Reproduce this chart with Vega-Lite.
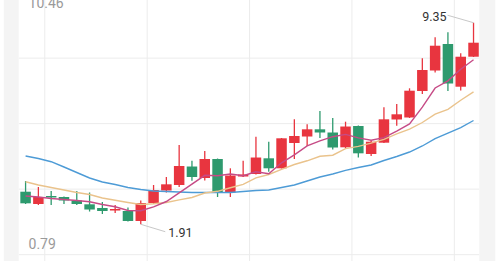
{
  "$schema": "https://vega.github.io/schema/vega-lite/v6.json",
  "width": 499,
  "height": 261,
  "padding": 0,
  "autosize": {"type": "none"},
  "background": "white",
  "config": {"view": {"stroke": null}},
  "datasets": {
    "levels": [{"price": 10.46}, {"price": 0.79}],
    "hgrid": [{"price": 0.79}, {"price": 3.2075}, {"price": 5.625}, {"price": 8.0425}],
    "vgrid": [{"pos": 1.5}, {"pos": 9.5}, {"pos": 17.5}, {"pos": 25.5}, {"pos": 33.5}]
  },
  "data": {
    "values": [
      {"i": 0, "open": 3.113, "high": 3.508, "low": 2.659, "close": 2.685, "ma5": 2.954, "ma10": 3.482, "ma20": 4.431},
      {"i": 1, "open": 2.659, "high": 3.287, "low": 2.622, "close": 2.918, "ma5": 2.918, "ma10": 3.360, "ma20": 4.338},
      {"i": 2, "open": 2.954, "high": 3.139, "low": 2.622, "close": 2.899, "ma5": 2.862, "ma10": 3.268, "ma20": 4.220},
      {"i": 3, "open": 2.918, "high": 2.936, "low": 2.659, "close": 2.788, "ma5": 2.825, "ma10": 3.176, "ma20": 4.025},
      {"i": 4, "open": 2.788, "high": 3.139, "low": 2.622, "close": 2.659, "ma5": 2.788, "ma10": 3.084, "ma20": 3.822},
      {"i": 5, "open": 2.648, "high": 3.084, "low": 2.382, "close": 2.456, "ma5": 2.744, "ma10": 3.010, "ma20": 3.619},
      {"i": 6, "open": 2.512, "high": 2.733, "low": 2.290, "close": 2.401, "ma5": 2.641, "ma10": 2.881, "ma20": 3.471},
      {"i": 7, "open": 2.419, "high": 2.622, "low": 2.327, "close": 2.475, "ma5": 2.556, "ma10": 2.796, "ma20": 3.379},
      {"i": 8, "open": 2.401, "high": 2.530, "low": 2.013, "close": 2.032, "ma5": 2.419, "ma10": 2.715, "ma20": 3.268},
      {"i": 9, "open": 2.032, "high": 2.788, "low": 1.91, "close": 2.696, "ma5": 2.412, "ma10": 2.641, "ma20": 3.194},
      {"i": 10, "open": 2.696, "high": 3.360, "low": 2.659, "close": 3.176, "ma5": 2.556, "ma10": 2.667, "ma20": 3.139},
      {"i": 11, "open": 3.157, "high": 3.656, "low": 3.084, "close": 3.386, "ma5": 2.751, "ma10": 2.715, "ma20": 3.120},
      {"i": 12, "open": 3.360, "high": 4.837, "low": 3.287, "close": 4.062, "ma5": 3.069, "ma10": 2.814, "ma20": 3.102},
      {"i": 13, "open": 4.043, "high": 4.257, "low": 3.519, "close": 3.656, "ma5": 3.394, "ma10": 2.899, "ma20": 3.084},
      {"i": 14, "open": 3.619, "high": 4.615, "low": 3.526, "close": 4.320, "ma5": 3.718, "ma10": 3.065, "ma20": 3.084},
      {"i": 15, "open": 4.320, "high": 4.338, "low": 2.918, "close": 3.084, "ma5": 3.700, "ma10": 3.128, "ma20": 3.084},
      {"i": 16, "open": 3.084, "high": 3.977, "low": 2.918, "close": 3.711, "ma5": 3.766, "ma10": 3.261, "ma20": 3.084},
      {"i": 17, "open": 3.674, "high": 4.257, "low": 3.656, "close": 3.748, "ma5": 3.704, "ma10": 3.386, "ma20": 3.120},
      {"i": 18, "open": 3.766, "high": 5.143, "low": 3.748, "close": 4.375, "ma5": 3.848, "ma10": 3.622, "ma20": 3.157},
      {"i": 19, "open": 4.346, "high": 4.958, "low": 3.851, "close": 3.977, "ma5": 3.777, "ma10": 3.748, "ma20": 3.176},
      {"i": 20, "open": 3.977, "high": 5.095, "low": 3.969, "close": 5.084, "ma5": 4.180, "ma10": 3.940, "ma20": 3.268},
      {"i": 21, "open": 4.910, "high": 5.785, "low": 4.320, "close": 5.169, "ma5": 4.471, "ma10": 4.117, "ma20": 3.360},
      {"i": 22, "open": 5.150, "high": 5.600, "low": 4.800, "close": 5.416, "ma5": 4.803, "ma10": 4.254, "ma20": 3.508},
      {"i": 23, "open": 5.416, "high": 6.091, "low": 5.095, "close": 5.298, "ma5": 4.988, "ma10": 4.420, "ma20": 3.656},
      {"i": 24, "open": 5.298, "high": 5.833, "low": 4.670, "close": 4.744, "ma5": 5.143, "ma10": 4.460, "ma20": 3.766},
      {"i": 25, "open": 4.752, "high": 5.697, "low": 4.715, "close": 5.519, "ma5": 5.228, "ma10": 4.704, "ma20": 3.903},
      {"i": 26, "open": 5.538, "high": 5.556, "low": 4.375, "close": 4.530, "ma5": 5.102, "ma10": 4.785, "ma20": 4.006},
      {"i": 27, "open": 4.504, "high": 5.003, "low": 4.431, "close": 4.958, "ma5": 5.010, "ma10": 4.907, "ma20": 4.098},
      {"i": 28, "open": 4.922, "high": 6.228, "low": 4.910, "close": 5.785, "ma5": 5.106, "ma10": 5.047, "ma20": 4.264},
      {"i": 29, "open": 5.778, "high": 6.350, "low": 5.545, "close": 5.970, "ma5": 5.353, "ma10": 5.246, "ma20": 4.412},
      {"i": 30, "open": 5.852, "high": 6.929, "low": 5.833, "close": 6.841, "ma5": 5.615, "ma10": 5.423, "ma20": 4.578},
      {"i": 31, "open": 6.829, "high": 8.036, "low": 6.719, "close": 7.604, "ma5": 6.232, "ma10": 5.667, "ma20": 4.800},
      {"i": 32, "open": 7.586, "high": 8.811, "low": 7.512, "close": 8.501, "ma5": 6.940, "ma10": 5.973, "ma20": 5.076},
      {"i": 33, "open": 8.564, "high": 8.996, "low": 6.829, "close": 7.106, "ma5": 7.206, "ma10": 6.154, "ma20": 5.279},
      {"i": 34, "open": 6.988, "high": 8.221, "low": 6.848, "close": 8.095, "ma5": 7.630, "ma10": 6.490, "ma20": 5.482},
      {"i": 35, "open": 8.095, "high": 9.35, "low": 8.084, "close": 8.612, "ma5": 7.985, "ma10": 6.800, "ma20": 5.741}
    ]
  },
  "layer": [
    {
      "data": {"name": "hgrid"},
      "mark": {"type": "rule", "color": "#ececec", "strokeWidth": 1},
      "encoding": {
        "x": {"datum": -0.536, "type": "quantitative", "scale": {"domain": [-1.608, 36.6], "nice": false, "zero": false}, "axis": null},
        "x2": {"datum": 35.45},
        "y": {"field": "price", "type": "quantitative", "scale": {"domain": [0.556, 10.188], "nice": false, "zero": false}, "axis": null}
      }
    },
    {
      "data": {"name": "vgrid"},
      "mark": {"type": "rule", "color": "#ececec", "strokeWidth": 1},
      "encoding": {
        "x": {"field": "pos", "type": "quantitative", "axis": null}
      }
    },
    {
      "mark": {"type": "rule", "strokeWidth": 1.3},
      "encoding": {
        "x": {"field": "i", "type": "quantitative", "axis": null},
        "y": {"field": "low", "type": "quantitative", "axis": null},
        "y2": {"field": "high"},
        "color": {"condition": {"test": "datum.close >= datum.open", "value": "#e8353f"}, "value": "#2e9a6e"}
      }
    },
    {
      "mark": {"type": "bar", "width": 10.5},
      "encoding": {
        "x": {"field": "i", "type": "quantitative", "axis": null},
        "y": {"field": "open", "type": "quantitative", "axis": null},
        "y2": {"field": "close"},
        "color": {"condition": {"test": "datum.close >= datum.open", "value": "#e8353f"}, "value": "#2e9a6e"}
      }
    },
    {
      "mark": {"type": "line", "color": "#4d9bd6", "strokeWidth": 1.4},
      "encoding": {
        "x": {"field": "i", "type": "quantitative", "axis": null},
        "y": {"field": "ma20", "type": "quantitative", "axis": null}
      }
    },
    {
      "mark": {"type": "line", "color": "#eac38c", "strokeWidth": 1.4},
      "encoding": {
        "x": {"field": "i", "type": "quantitative", "axis": null},
        "y": {"field": "ma10", "type": "quantitative", "axis": null}
      }
    },
    {
      "mark": {"type": "line", "color": "#c64b86", "strokeWidth": 1.4},
      "encoding": {
        "x": {"field": "i", "type": "quantitative", "axis": null},
        "y": {"field": "ma5", "type": "quantitative", "axis": null}
      }
    },
    {
      "data": {"values": [{}]},
      "mark": {"type": "rect", "color": "#f4f4f4"},
      "encoding": {
        "x": {"datum": -1.7, "type": "quantitative", "axis": null},
        "x2": {"datum": -0.536},
        "y": {"datum": 10.188, "type": "quantitative", "axis": null},
        "y2": {"datum": 0.556}
      }
    },
    {
      "data": {"values": [{}]},
      "mark": {"type": "rect", "color": "#f4f4f4"},
      "encoding": {
        "x": {"datum": 35.45, "type": "quantitative", "axis": null},
        "x2": {"datum": 36.7},
        "y": {"datum": 10.188, "type": "quantitative", "axis": null},
        "y2": {"datum": 0.556}
      }
    },
    {
      "data": {"name": "levels"},
      "transform": [{"filter": "datum.price > 10"}],
      "mark": {"type": "text", "align": "left", "baseline": "top", "dy": 4, "fontSize": 14, "font": "Roboto", "color": "#9a9a9a", "clip": false},
      "encoding": {
        "x": {"datum": 0.23, "type": "quantitative", "axis": null},
        "y": {"field": "price", "type": "quantitative", "axis": null},
        "text": {"field": "price", "type": "quantitative", "format": ".2f"}
      }
    },
    {
      "data": {"name": "levels"},
      "transform": [{"filter": "datum.price < 1"}],
      "mark": {"type": "text", "align": "left", "baseline": "bottom", "dy": -3, "fontSize": 14, "font": "Roboto", "color": "#9a9a9a"},
      "encoding": {
        "x": {"datum": 0.23, "type": "quantitative", "axis": null},
        "y": {"field": "price", "type": "quantitative", "axis": null},
        "text": {"field": "price", "type": "quantitative", "format": ".2f"}
      }
    },
    {
      "transform": [{"filter": "datum.i == 35"}],
      "mark": {"type": "rule", "color": "#c8c8c8", "strokeWidth": 1, "x2Offset": -26, "y2Offset": -7.5},
      "encoding": {
        "x": {"field": "i", "type": "quantitative", "axis": null},
        "x2": {"field": "i"},
        "y": {"field": "high", "type": "quantitative", "axis": null},
        "y2": {"field": "high"}
      }
    },
    {
      "transform": [{"filter": "datum.i == 35"}],
      "mark": {"type": "text", "align": "right", "baseline": "alphabetic", "dx": -27, "dy": -2, "fontSize": 12.5, "font": "Roboto", "color": "#333333"},
      "encoding": {
        "x": {"field": "i", "type": "quantitative", "axis": null},
        "y": {"field": "high", "type": "quantitative", "axis": null},
        "text": {"field": "high", "type": "quantitative", "format": ".2f"}
      }
    },
    {
      "transform": [{"filter": "datum.i == 9"}],
      "mark": {"type": "rule", "color": "#c8c8c8", "strokeWidth": 1, "x2Offset": 24.5, "y2Offset": 7.4},
      "encoding": {
        "x": {"field": "i", "type": "quantitative", "axis": null},
        "x2": {"field": "i"},
        "y": {"field": "low", "type": "quantitative", "axis": null},
        "y2": {"field": "low"}
      }
    },
    {
      "transform": [{"filter": "datum.i == 9"}],
      "mark": {"type": "text", "align": "left", "baseline": "alphabetic", "dx": 27.5, "dy": 13, "fontSize": 12.5, "font": "Roboto", "color": "#333333"},
      "encoding": {
        "x": {"field": "i", "type": "quantitative", "axis": null},
        "y": {"field": "low", "type": "quantitative", "axis": null},
        "text": {"field": "low", "type": "quantitative", "format": ".2f"}
      }
    }
  ]
}
